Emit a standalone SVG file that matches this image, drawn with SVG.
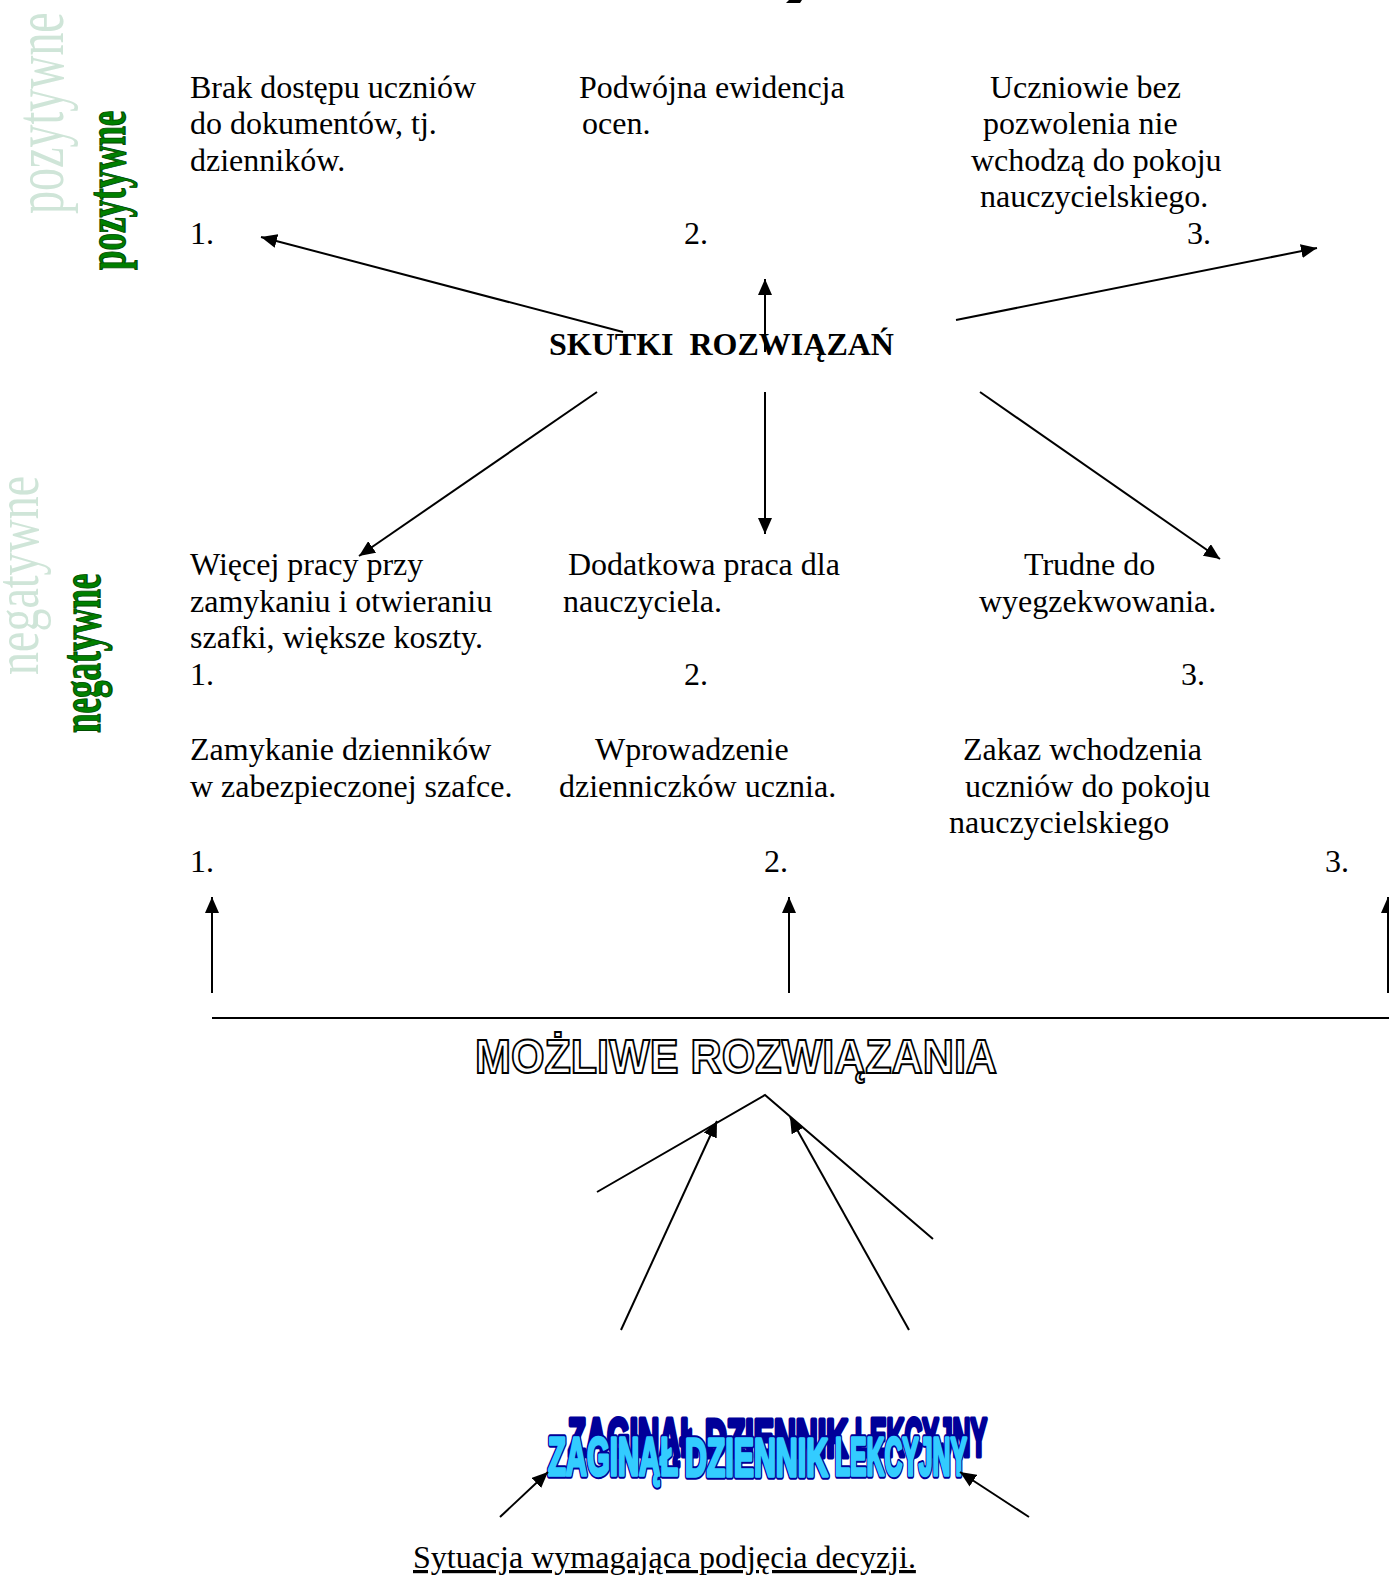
<svg xmlns="http://www.w3.org/2000/svg" width="1389" height="1576" viewBox="0 0 1389 1576">
<style>
.t{font-family:"Liberation Serif","Times New Roman",serif;font-size:32px;fill:#000}
.b{font-weight:bold}
.c{stroke:#000;stroke-width:2;fill:none}
.lite{font-family:"Liberation Serif","Times New Roman",serif;font-size:46px;fill:#cfe5d8}
.dark{font-family:"Liberation Serif","Times New Roman",serif;font-size:35px;font-weight:bold;fill:#008000;stroke:#004d00;stroke-width:0.8}
.wa{font-family:"Liberation Sans Narrow","Liberation Sans",Arial,sans-serif;font-weight:bold;font-size:53px;stroke-linejoin:round}
.shadow{fill:#000099;stroke:#000099;stroke-width:5}
.edge{fill:#000099;stroke:#000099;stroke-width:7.5}
.front{fill:#33ccff;stroke:#33ccff;stroke-width:3.5}
.outl{font-family:"Liberation Sans",Arial,sans-serif;font-weight:bold;font-size:49px;fill:#fff;stroke:#000;stroke-width:2}
</style>
<defs>
<marker id="ah" viewBox="0 0 16 14" refX="16" refY="7" markerWidth="16" markerHeight="14" orient="auto" markerUnits="userSpaceOnUse">
<path d="M0,0 L16,7 L0,14 z" fill="#000"/>
</marker>
</defs>
<rect width="1389" height="1576" fill="#fff"/>

<path d="M786,3 L800,3 L802,0 L789,0 z" fill="#000"/>

<g id="side-labels">
<text class="lite" transform="translate(63,214) scale(1.5,1) rotate(-90)">pozytywne</text>
<text class="dark" transform="translate(125,270) scale(1.55,1) rotate(-90)">pozytywne</text>
<text class="lite" transform="translate(38,675) scale(1.35,1) rotate(-90)">negatywne</text>
<text class="dark" transform="translate(100,733) scale(1.6,1) rotate(-90)">negatywne</text>
</g>

<g id="pos1">
<text class="t" x="190" y="98">Brak dostępu uczniów</text>
<text class="t" x="190" y="134">do dokumentów, tj.</text>
<text class="t" x="190" y="171">dzienników.</text>
<text class="t" x="190" y="244">1.</text>
</g>
<g id="pos2">
<text class="t" x="579" y="98">Podwójna ewidencja</text>
<text class="t" x="582" y="134">ocen.</text>
<text class="t" x="684" y="244">2.</text>
</g>
<g id="pos3">
<text class="t" x="990" y="98">Uczniowie bez</text>
<text class="t" x="983" y="134">pozwolenia nie</text>
<text class="t" x="971" y="171">wchodzą do pokoju</text>
<text class="t" x="980" y="207">nauczycielskiego.</text>
<text class="t" x="1187" y="244">3.</text>
</g>

<g id="skutki">
<text class="t b" x="549" y="355" style="white-space:pre">SKUTKI  ROZWIĄZAŃ</text>
</g>

<g id="neg1">
<text class="t" x="190" y="575">Więcej pracy przy</text>
<text class="t" x="190" y="612">zamykaniu i otwieraniu</text>
<text class="t" x="190" y="648">szafki, większe koszty.</text>
<text class="t" x="190" y="685">1.</text>
</g>
<g id="neg2">
<text class="t" x="568" y="575">Dodatkowa praca dla</text>
<text class="t" x="563" y="612">nauczyciela.</text>
<text class="t" x="684" y="685">2.</text>
</g>
<g id="neg3">
<text class="t" x="1024" y="575">Trudne do</text>
<text class="t" x="979" y="612">wyegzekwowania.</text>
<text class="t" x="1181" y="685">3.</text>
</g>

<g id="sol1">
<text class="t" x="190" y="760">Zamykanie dzienników</text>
<text class="t" x="190" y="797">w zabezpieczonej szafce.</text>
<text class="t" x="190" y="872">1.</text>
</g>
<g id="sol2">
<text class="t" x="595" y="760">Wprowadzenie</text>
<text class="t" x="559" y="797">dzienniczków ucznia.</text>
<text class="t" x="764" y="872">2.</text>
</g>
<g id="sol3">
<text class="t" x="963" y="760">Zakaz wchodzenia</text>
<text class="t" x="965" y="797">uczniów do pokoju</text>
<text class="t" x="949" y="833">nauczycielskiego</text>
<text class="t" x="1325" y="872">3.</text>
</g>

<g id="mozliwe">
<text class="outl" x="475" y="1073" textLength="522" lengthAdjust="spacingAndGlyphs">MOŻLIWE ROZWIĄZANIA</text>
</g>

<g id="zaginal">
<text class="wa shadow" x="568" y="1456" textLength="130" lengthAdjust="spacingAndGlyphs">ZAGINĄŁ</text>
<text class="wa shadow" x="705" y="1457" textLength="143" lengthAdjust="spacingAndGlyphs">DZIENNIK</text>
<text class="wa shadow" x="855" y="1456" textLength="132" lengthAdjust="spacingAndGlyphs">LEKCYJNY</text>
<text class="wa edge" x="548" y="1475" textLength="130" lengthAdjust="spacingAndGlyphs">ZAGINĄŁ</text>
<text class="wa edge" x="685" y="1476" textLength="143" lengthAdjust="spacingAndGlyphs">DZIENNIK</text>
<text class="wa edge" x="835" y="1475" textLength="132" lengthAdjust="spacingAndGlyphs">LEKCYJNY</text>
<text class="wa front" x="548" y="1475" textLength="130" lengthAdjust="spacingAndGlyphs">ZAGINĄŁ</text>
<text class="wa front" x="685" y="1476" textLength="143" lengthAdjust="spacingAndGlyphs">DZIENNIK</text>
<text class="wa front" x="835" y="1475" textLength="132" lengthAdjust="spacingAndGlyphs">LEKCYJNY</text>
</g>

<g id="sytuacja">
<text class="t" x="413" y="1568" text-decoration="underline">Sytuacja wymagająca podjęcia decyzji.</text>
</g>

<g id="connectors">
<line class="c" x1="623" y1="332" x2="261" y2="237" marker-end="url(#ah)"/>
<line class="c" x1="765" y1="352" x2="765" y2="279" marker-end="url(#ah)"/>
<line class="c" x1="956" y1="320" x2="1317" y2="248" marker-end="url(#ah)"/>
<line class="c" x1="597" y1="392" x2="359" y2="556" marker-end="url(#ah)"/>
<line class="c" x1="765" y1="392" x2="765" y2="534" marker-end="url(#ah)"/>
<line class="c" x1="980" y1="392" x2="1220" y2="559" marker-end="url(#ah)"/>
<line class="c" x1="212" y1="993" x2="212" y2="897" marker-end="url(#ah)"/>
<line class="c" x1="789" y1="993" x2="789" y2="897" marker-end="url(#ah)"/>
<line class="c" x1="1388" y1="993" x2="1388" y2="897" marker-end="url(#ah)"/>
<line class="c" x1="212" y1="1018" x2="1389" y2="1018"/>
<polyline class="c" points="597,1192 765,1095 933,1239"/>
<line class="c" x1="621" y1="1330" x2="717" y2="1121" marker-end="url(#ah)"/>
<line class="c" x1="909" y1="1330" x2="790" y2="1117" marker-end="url(#ah)"/>
<line class="c" x1="500" y1="1517" x2="548" y2="1472" marker-end="url(#ah)"/>
<line class="c" x1="1029" y1="1517" x2="960" y2="1472" marker-end="url(#ah)"/>
</g>
</svg>
